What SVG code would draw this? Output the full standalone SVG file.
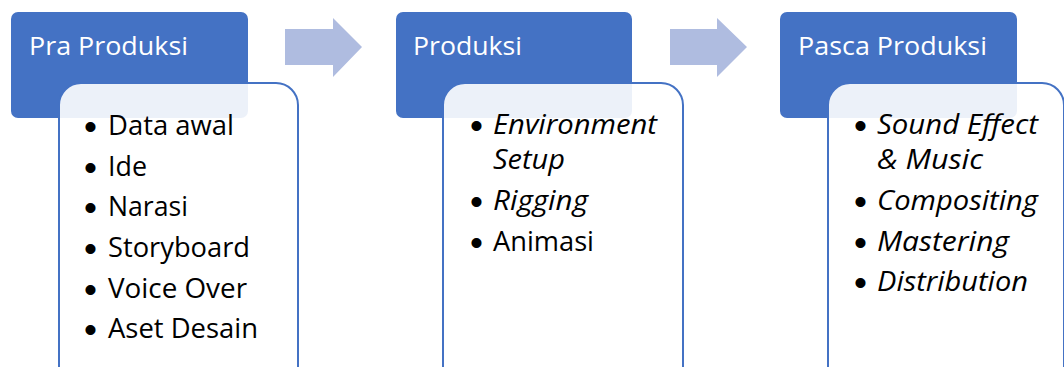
<svg xmlns="http://www.w3.org/2000/svg" width="1064" height="367" viewBox="0 0 1064 367">
<style>
.hdr{fill:#4472C4}
.card{fill:#FFFFFF;fill-opacity:0.9;stroke:#4472C4;stroke-width:2}
.arrow{fill:#AFBCE0}
.ht{font-family:"Open Sans","Noto Sans",sans-serif;font-size:26px;fill:#FFFFFF}
.t{font-family:"Open Sans","Noto Sans",sans-serif;font-size:26.5px;fill:#000000}
.i{font-style:italic}
.b{font-family:"Liberation Sans",Arial,sans-serif;font-size:37px;font-style:normal}
</style>
<rect width="1064" height="367" fill="#FFFFFF"/>
<g id="connectors">
<polygon class="arrow" points="285,29 333,29 333,18 362,47 333,77 333,65 285,65"/>
<polygon class="arrow" points="670,29 717,29 717,18 747,47 717,77 717,65 670,65"/>
</g>
<g id="pra-produksi">
<rect class="hdr" x="11" y="12" width="237" height="106" rx="7"/>
<text class="ht" x="29" y="55" textLength="159" lengthAdjust="spacingAndGlyphs">Pra Produksi</text>
<rect class="card" x="59" y="83" width="239" height="310" rx="22"/>
<text class="t" x="84" y="135"><tspan class="b" dy="4">•</tspan><tspan x="108" dy="-4" textLength="126" lengthAdjust="spacingAndGlyphs">Data awal</tspan></text>
<text class="t" x="84" y="176"><tspan class="b" dy="4">•</tspan><tspan x="108" dy="-4" textLength="39" lengthAdjust="spacingAndGlyphs">Ide</tspan></text>
<text class="t" x="84" y="216"><tspan class="b" dy="4">•</tspan><tspan x="108" dy="-4" textLength="80" lengthAdjust="spacingAndGlyphs">Narasi</tspan></text>
<text class="t" x="84" y="257"><tspan class="b" dy="4">•</tspan><tspan x="108" dy="-4" textLength="142" lengthAdjust="spacingAndGlyphs">Storyboard</tspan></text>
<text class="t" x="84" y="298"><tspan class="b" dy="4">•</tspan><tspan x="108" dy="-4" textLength="139" lengthAdjust="spacingAndGlyphs">Voice Over</tspan></text>
<text class="t" x="84" y="338"><tspan class="b" dy="4">•</tspan><tspan x="108" dy="-4" textLength="150" lengthAdjust="spacingAndGlyphs">Aset Desain</tspan></text>
</g>
<g id="produksi">
<rect class="hdr" x="396" y="12" width="236" height="106" rx="7"/>
<text class="ht" x="413" y="55" textLength="109" lengthAdjust="spacingAndGlyphs">Produksi</text>
<rect class="card" x="443" y="83" width="240" height="310" rx="22"/>
<text class="t" x="470" y="134"><tspan class="b" dy="4">•</tspan><tspan class="i" x="493" dy="-4" textLength="164" lengthAdjust="spacingAndGlyphs">Environment</tspan></text>
<text class="t i" x="493" y="169" textLength="72" lengthAdjust="spacingAndGlyphs">Setup</text>
<text class="t" x="470" y="210"><tspan class="b" dy="4">•</tspan><tspan class="i" x="493" dy="-4" textLength="95" lengthAdjust="spacingAndGlyphs">Rigging</tspan></text>
<text class="t" x="470" y="251"><tspan class="b" dy="4">•</tspan><tspan x="493" dy="-4" textLength="101" lengthAdjust="spacingAndGlyphs">Animasi</tspan></text>
</g>
<g id="pasca-produksi">
<rect class="hdr" x="780" y="12" width="237" height="106" rx="7"/>
<text class="ht" x="798" y="55" textLength="189" lengthAdjust="spacingAndGlyphs">Pasca Produksi</text>
<rect class="card" x="828" y="83" width="236" height="310" rx="22"/>
<text class="t" x="854" y="134"><tspan class="b" dy="4">•</tspan><tspan class="i" x="877" dy="-4" textLength="161" lengthAdjust="spacingAndGlyphs">Sound Effect</tspan></text>
<text class="t i" x="877" y="169" textLength="106" lengthAdjust="spacingAndGlyphs">&amp; Music</text>
<text class="t" x="854" y="210"><tspan class="b" dy="4">•</tspan><tspan class="i" x="877" dy="-4" textLength="161" lengthAdjust="spacingAndGlyphs">Compositing</tspan></text>
<text class="t" x="854" y="251"><tspan class="b" dy="4">•</tspan><tspan class="i" x="877" dy="-4" textLength="132" lengthAdjust="spacingAndGlyphs">Mastering</tspan></text>
<text class="t" x="854" y="291"><tspan class="b" dy="4">•</tspan><tspan class="i" x="877" dy="-4" textLength="151" lengthAdjust="spacingAndGlyphs">Distribution</tspan></text>
</g>
</svg>
